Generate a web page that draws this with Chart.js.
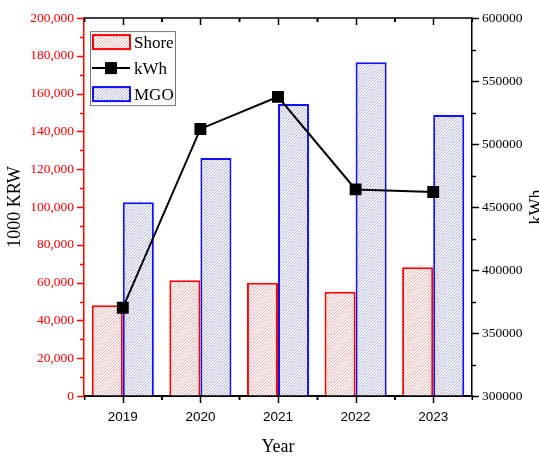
<!DOCTYPE html>
<html>
<head>
<meta charset="utf-8">
<script src="https://cdn.jsdelivr.net/npm/chart.js@4.4.1/dist/chart.umd.min.js"></script>
<style>
    html, body {margin: 0; padding: 0; background: #fff;}
    #wrap {width: 539px; height: 456px;}
</style>
</head>
<body>
<div id="wrap"><canvas id="c" width="539" height="456"></canvas></div>
<script>
// ── data ──
const years = ['2019', '2020', '2021', '2022', '2023'];
const shore = [48000, 61300, 60000, 55200, 68200];
const mgo = [102500, 126000, 154500, 176700, 148700];
const kwh = [370000, 512000, 537500, 464000, 462000];
const leftTicks = {min: 0, max: 200000, step: 20000, minor: 10000};
const rightTicks = {min: 300000, max: 600000, step: 50000, minor: 25000};

const SERIF = "'Liberation Serif', 'Times New Roman', serif";
const SANS = "'Liberation Sans', Arial, sans-serif";

function hatch(line, bg) {
    const n = 3;
    const c = document.createElement('canvas');
    c.width = n; c.height = n;
    const g = c.getContext('2d');
    g.fillStyle = bg;
    g.fillRect(0, 0, n, n);
    g.strokeStyle = line;
    g.lineWidth = 1;
    g.beginPath();
    g.moveTo(0, n); g.lineTo(n, 0);
    g.moveTo(-1, 1); g.lineTo(1, -1);
    g.moveTo(n - 1, n + 1); g.lineTo(n + 1, n - 1);
    g.stroke();
    return g.createPattern(c, 'repeat');
}

const shoreFill = hatch('#f2b2b2', '#fff9f9');
const mgoFill = hatch('#b2b2ea', '#f9f9ff');

// ticks, top frame, right title and legend
const frame = {
    id: 'frame',
    afterDraw(chart) {
        const {ctx, chartArea: a, scales} = chart;
        ctx.save();
        // left ticks
        ctx.strokeStyle = '#ff0000';
        ctx.lineWidth = 1.5;
        for (let v = leftTicks.min; v <= leftTicks.max; v += leftTicks.minor) {
            const y = Math.round(scales.y.getPixelForValue(v)) + 0.5;
            const len = v % leftTicks.step === 0 ? 7 : 4;
            ctx.beginPath(); ctx.moveTo(a.left - len, y); ctx.lineTo(a.left, y); ctx.stroke();
        }
        // right ticks
        ctx.strokeStyle = '#000';
        for (let v = rightTicks.min; v <= rightTicks.max; v += rightTicks.minor) {
            const y = Math.round(scales.y1.getPixelForValue(v)) + 0.5;
            const len = v % rightTicks.step === 0 ? 7 : 4;
            ctx.beginPath(); ctx.moveTo(a.right, y); ctx.lineTo(a.right + len, y); ctx.stroke();
        }
        // top frame line
        ctx.lineWidth = 1.5;
        ctx.beginPath(); ctx.moveTo(a.left, a.top); ctx.lineTo(a.right, a.top); ctx.stroke();
        // x ticks bottom & top
        const xs = scales.x;
        const half = (xs.getPixelForValue(1) - xs.getPixelForValue(0)) / 2;
        years.forEach((_, i) => {
            const cx = Math.round(xs.getPixelForValue(i)) + 0.5;
            ctx.beginPath();
            ctx.moveTo(cx, a.bottom); ctx.lineTo(cx, a.bottom + 7);
            ctx.moveTo(cx, a.top); ctx.lineTo(cx, a.top + 7);
            ctx.stroke();
            [cx - half, cx + half].forEach(mx => {
                ctx.beginPath();
                ctx.moveTo(mx, a.bottom); ctx.lineTo(mx, a.bottom + 4);
                ctx.moveTo(mx, a.top); ctx.lineTo(mx, a.top + 4);
                ctx.stroke();
            });
        });
        // right axis title, reading bottom to top (cut by the edge, as in the original)
        ctx.fillStyle = '#000';
        ctx.font = '18px ' + SERIF;
        ctx.textAlign = 'center';
        ctx.textBaseline = 'middle';
        ctx.translate(537, (a.top + a.bottom) / 2);
        ctx.rotate(-Math.PI / 2);
        ctx.fillText('kWh', 0, 0);
        ctx.restore();

        // legend
        ctx.save();
        const ds = chart.data.datasets;
        const bx = a.left + 6, by = a.top + 13, bw = 85, bh = 74;
        ctx.fillStyle = '#fff';
        ctx.fillRect(bx, by, bw, bh);
        ctx.strokeStyle = '#777';
        ctx.lineWidth = 1;
        ctx.strokeRect(bx + 0.5, by + 0.5, bw, bh);
        const rows = [ds[0], ds[2], ds[1]];
        ctx.font = '17px ' + SERIF;
        ctx.textBaseline = 'middle';
        ctx.textAlign = 'left';
        rows.forEach((d, i) => {
            const cy = by + 11 + i * 26;
            if (d.type === 'line') {
                ctx.strokeStyle = d.borderColor;
                ctx.lineWidth = 2;
                ctx.beginPath(); ctx.moveTo(bx + 2, cy); ctx.lineTo(bx + 40, cy); ctx.stroke();
                ctx.fillStyle = d.pointBackgroundColor;
                ctx.fillRect(bx + 21 - 6, cy - 6, 12, 12);
            } else {
                ctx.fillStyle = d.backgroundColor;
                ctx.fillRect(bx + 3, cy - 7, 37, 14);
                ctx.strokeStyle = d.borderColor;
                ctx.lineWidth = 2;
                ctx.strokeRect(bx + 3, cy - 7, 37, 14);
            }
            ctx.fillStyle = '#000';
            ctx.fillText(d.label, bx + 44, cy + 1);
        });
        ctx.restore();
    }
};

new Chart(document.getElementById('c'), {
    data: {
        labels: years,
        datasets: [
            {
                type: 'bar', label: 'Shore', data: shore, yAxisID: 'y',
                backgroundColor: shoreFill, borderColor: '#ff0000', borderWidth: 2,
                categoryPercentage: 0.8, barPercentage: 1.0, order: 2
            },
            {
                type: 'bar', label: 'MGO', data: mgo, yAxisID: 'y',
                backgroundColor: mgoFill, borderColor: '#1010ff', borderWidth: 2,
                categoryPercentage: 0.8, barPercentage: 1.0, order: 2
            },
            {
                type: 'line', label: 'kWh', data: kwh, yAxisID: 'y1',
                borderColor: '#000', borderWidth: 2, pointStyle: 'rect',
                pointRadius: 7, pointBackgroundColor: '#000', pointBorderColor: '#000',
                tension: 0, order: 0
            }
        ]
    },
    options: {
        responsive: false,
        animation: false,
        layout: {padding: {top: 15, left: 0, right: 0, bottom: 0}},
        plugins: {legend: {display: false}, tooltip: {enabled: false}},
        scales: {
            x: {
                afterFit: s => { s.height = 60; },
                grid: {drawOnChartArea: false, drawTicks: false},
                border: {color: '#000', width: 2},
                ticks: {padding: 13, color: '#000', font: {family: SANS, size: 13.5}},
                title: {display: true, text: 'Year', color: '#000', padding: {top: 0, bottom: 0}, font: {family: SERIF, size: 18, lineHeight: 1.0}}
            },
            y: {
                position: 'left',
                min: leftTicks.min, max: leftTicks.max,
                afterFit: s => { s.width = 84; },
                grid: {drawOnChartArea: false, drawTicks: false},
                border: {color: '#ff0000', width: 1.5},
                ticks: {
                    stepSize: leftTicks.step, padding: 10, color: '#ff0000',
                    font: {family: SERIF, size: 13.5},
                    callback: v => v.toLocaleString('en-US')
                },
                title: {display: true, text: '1000 KRW', color: '#000', padding: {top: 4, bottom: 0}, font: {family: SERIF, size: 18}}
            },
            y1: {
                position: 'right',
                min: rightTicks.min, max: rightTicks.max,
                afterFit: s => { s.width = 67; },
                grid: {drawOnChartArea: false, drawTicks: false},
                border: {color: '#000', width: 1.5},
                ticks: {
                    stepSize: rightTicks.step, padding: 10, color: '#000',
                    font: {family: SERIF, size: 13.5},
                    callback: v => String(v)
                }
            }
        }
    },
    plugins: [frame]
});
</script>
</body>
</html>
